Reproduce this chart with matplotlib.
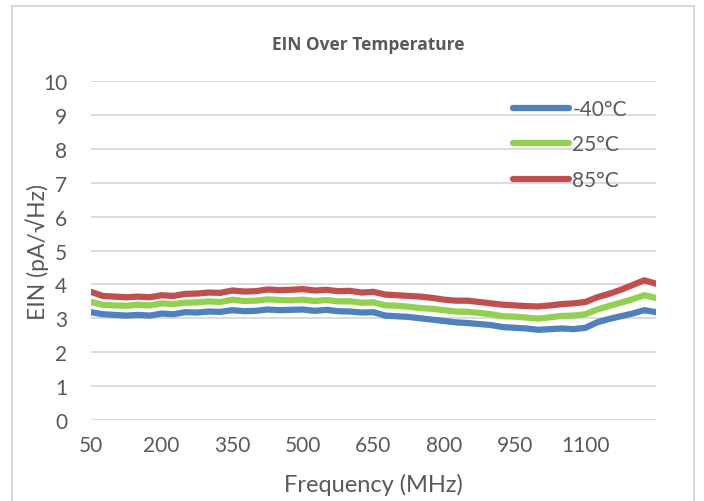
import numpy as np
import matplotlib
matplotlib.use("Agg")
import matplotlib.pyplot as plt
from matplotlib.patches import Rectangle

plt.rcParams['font.family'] = ['Lato', 'DejaVu Sans']

freq = list(range(50, 1251, 25))
ein_m40 = [3.18, 3.12, 3.10, 3.08, 3.10, 3.08, 3.14, 3.12, 3.18, 3.17,
           3.20, 3.19, 3.24, 3.21, 3.22, 3.26, 3.24, 3.25, 3.26, 3.22,
           3.25, 3.21, 3.20, 3.17, 3.18, 3.08, 3.06, 3.04, 3.00, 2.96,
           2.92, 2.88, 2.86, 2.83, 2.80, 2.74, 2.72, 2.70, 2.66, 2.68,
           2.70, 2.68, 2.72, 2.88, 2.98, 3.06, 3.14, 3.24, 3.18]
ein_25 = [3.48, 3.40, 3.38, 3.37, 3.40, 3.38, 3.44, 3.42, 3.46, 3.47,
          3.50, 3.48, 3.55, 3.51, 3.52, 3.56, 3.54, 3.53, 3.55, 3.51,
          3.54, 3.50, 3.50, 3.46, 3.47, 3.38, 3.37, 3.34, 3.30, 3.28,
          3.24, 3.20, 3.19, 3.16, 3.12, 3.06, 3.05, 3.02, 2.99, 3.03,
          3.07, 3.08, 3.12, 3.26, 3.36, 3.46, 3.56, 3.68, 3.60]
ein_85 = [3.78, 3.66, 3.64, 3.62, 3.64, 3.62, 3.68, 3.66, 3.72, 3.73,
          3.76, 3.75, 3.82, 3.79, 3.80, 3.85, 3.83, 3.84, 3.86, 3.82,
          3.84, 3.80, 3.81, 3.76, 3.78, 3.70, 3.68, 3.66, 3.64, 3.60,
          3.55, 3.52, 3.52, 3.48, 3.44, 3.40, 3.38, 3.36, 3.35, 3.38,
          3.42, 3.44, 3.48, 3.62, 3.72, 3.84, 3.98, 4.12, 4.02]
labels = ['-40°C', '25°C', '85°C']
xticks = [50, 200, 350, 500, 650, 800, 950, 1100]

txt = '#595959'
fig = plt.figure(figsize=(7.04, 5.02), dpi=100)
ax = fig.add_axes([91/704, 1 - 421/502, (656-91)/704, (421-82)/502])

ax.plot(freq, ein_m40, color='#4F81BD', lw=4.5, solid_capstyle='round', label=labels[0])
ax.plot(freq, ein_25, color='#92D050', lw=4.5, solid_capstyle='round', label=labels[1])
ax.plot(freq, ein_85, color='#C0504D', lw=4.5, solid_capstyle='round', label=labels[2])

ax.set_xlim(50, 1250)
ax.set_ylim(0, 10)
ax.set_yticks(range(0, 11))
ax.set_xticks(xticks)
ax.grid(axis='y', color='#d9d9d9', lw=1.3)
ax.set_axisbelow(True)
for s in ax.spines.values():
    s.set_visible(False)
ax.tick_params(length=0, labelsize=15, colors=txt)
ax.tick_params(axis='y', pad=17)
ax.tick_params(axis='x', pad=11)

ax.set_xlabel('Frequency (MHz)', fontsize=17, color=txt, labelpad=13)
ax.set_ylabel('EIN (pA/√Hz)', fontsize=16.5, color=txt, labelpad=-4)
fig.text(368/704, 1 - 45/502, 'EIN Over Temperature', ha='center', va='center',
         fontsize=12.5, fontweight='bold', color=txt,
         family=['Open Sans', 'DejaVu Sans'])

leg = ax.legend(loc='upper left', bbox_to_anchor=(513/704, 1 - 100/502),
                bbox_transform=fig.transFigure, frameon=False, fontsize=15,
                handlelength=2.7, handletextpad=0.15, labelspacing=0.74,
                borderpad=0, borderaxespad=0, labelcolor=txt)

fig.patches.append(Rectangle((12/704, -0.05), (694-12)/704, 1.05 - 7/502,
                             transform=fig.transFigure, fill=False,
                             edgecolor='#d9d9d9', lw=1.5))

fig.savefig('out.png', dpi=100, facecolor='white')
